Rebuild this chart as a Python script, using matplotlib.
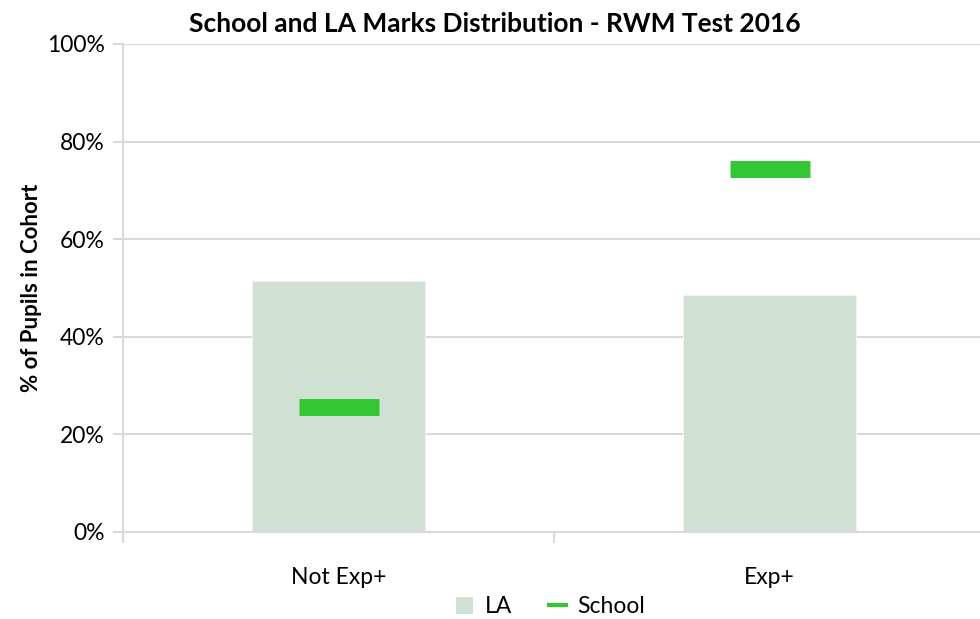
import numpy as np
import matplotlib
matplotlib.use("Agg")
import matplotlib.pyplot as plt
from matplotlib.patches import Patch
from matplotlib.lines import Line2D
from matplotlib.ticker import PercentFormatter, FixedLocator

categories = ["Not Exp+", "Exp+"]
la_values = [51.4, 48.6]
school_values = [25.7, 74.3]

bar_color = "#D0E0D2"
school_color = "#33C733"
grid_color = "#D9D9D9"

plt.rcParams["font.family"] = ["Lato", "DejaVu Sans"]

fig = plt.figure(figsize=(9.8, 6.19), dpi=100)
ax = fig.add_axes([123 / 980, 1 - 532 / 619, 862 / 980, 488 / 619])

x = np.arange(len(categories))
ax.bar(x, la_values, width=0.4, color=bar_color, edgecolor="#F2F2F2", linewidth=0.8, zorder=2)
# school marks drawn as wide flat dashes
ax.plot(x, school_values, linestyle="none", marker="_", markersize=58,
        markeredgewidth=12.2, color=school_color, zorder=3)

ax.set_xlim(-0.5, 1.5)
ax.set_ylim(0, 100)
ax.yaxis.set_major_locator(FixedLocator([0, 20, 40, 60, 80, 100]))
ax.yaxis.set_major_formatter(PercentFormatter(decimals=0))
ax.grid(axis="y", color=grid_color, linewidth=1.5, zorder=0)
ax.set_axisbelow(True)

ax.set_xticks(x)
ax.set_xticklabels(categories)
ax.set_xticks([-0.5, 0.5, 1.5], minor=True)
ax.tick_params(axis="x", which="major", length=0, pad=25, labelsize=16.5)
ax.tick_params(axis="x", which="minor", length=8, width=1.5, color=grid_color)
ax.tick_params(axis="y", length=7, width=1.5, color=grid_color, labelsize=16.5, pad=6)

for s in ["top", "right"]:
    ax.spines[s].set_visible(False)
for s in ["left", "bottom"]:
    ax.spines[s].set_color(grid_color)
    ax.spines[s].set_linewidth(1.5)

ax.set_ylabel("% of Pupils in Cohort", fontsize=16, fontweight="bold", labelpad=4)
fig.text(0.505, 0.961, "School and LA Marks Distribution - RWM Test 2016",
         ha="center", va="center", fontsize=19, fontweight="bold")

handles = [Patch(facecolor=bar_color, edgecolor="none", label="LA"),
           Line2D([0], [0], color=school_color, linewidth=3, label="School")]
fig.legend(handles=handles, loc="center", bbox_to_anchor=(0.562, 0.02), ncol=2,
           frameon=False, fontsize=16.5, handlelength=0.75, handleheight=0.75,
           columnspacing=1.6, handletextpad=0.5)

fig.savefig("out.png", dpi=100)
